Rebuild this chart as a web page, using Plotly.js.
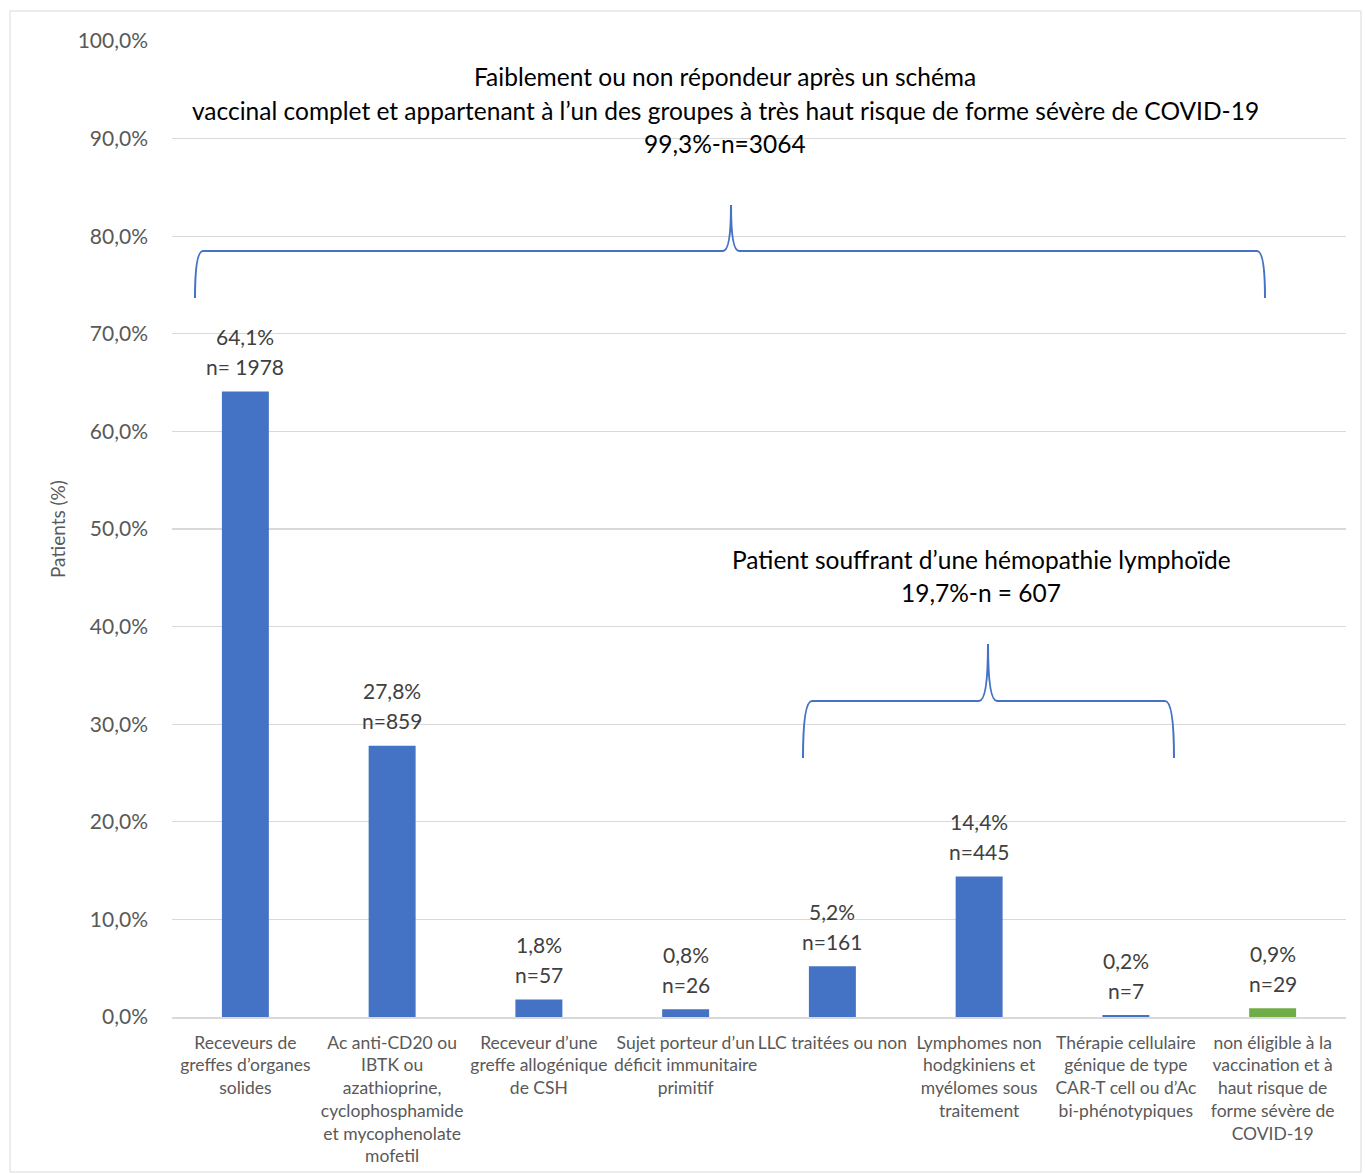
<!DOCTYPE html>
<html>
<head>
<meta charset="utf-8">
<script src="https://cdn.plot.ly/plotly-3.0.1.min.js"></script>
<style>html,body{margin:0;padding:0;background:#fff;}#chart{width:1365px;height:1174px;}</style>
</head>
<body>
<div id="chart"></div>
<script>
// ---- data ----
const categories = [
  "Receveurs de<br>greffes d’organes<br>solides",
  "Ac anti-CD20 ou<br>IBTK ou<br>azathioprine,<br>cyclophosphamide<br>et mycophenolate<br>mofetil",
  "Receveur d’une<br>greffe allogénique<br>de CSH",
  "Sujet porteur d’un<br>déficit immunitaire<br>primitif",
  "LLC traitées ou non",
  "Lymphomes non<br>hodgkiniens et<br>myélomes sous<br>traitement",
  "Thérapie cellulaire<br>génique de type<br>CAR-T cell ou d’Ac<br>bi-phénotypiques",
  "non éligible à la<br>vaccination et à<br>haut risque de<br>forme sévère de<br>COVID-19"
];
const percentValues = [64.1, 27.8, 1.8, 0.8, 5.2, 14.4, 0.2, 0.9];
const countLabels = ["n= 1978", "n=859", "n=57", "n=26", "n=161", "n=445", "n=7", "n=29"];
const percentLabels = ["64,1%", "27,8%", "1,8%", "0,8%", "5,2%", "14,4%", "0,2%", "0,9%"];
const barColors = ["#4472C4","#4472C4","#4472C4","#4472C4","#4472C4","#4472C4","#4472C4","#70AD47"];
const titleLines = [
  "Faiblement ou non répondeur après un schéma",
  "vaccinal complet et appartenant à l’un des groupes à très haut risque de forme sévère de COVID-19",
  "99,3%-n=3064"
];
const subTitleLines = [
  "Patient souffrant d’une hémopathie lymphoïde",
  "19,7%-n = 607"
];
const yAxisTitle = "Patients (%)";

// ---- layout helpers (pixel -> paper) ----
const W = 1365, H = 1174;
const M = {l: 172, r: 19, t: 41, b: 157};
const PW = W - M.l - M.r, PH = H - M.t - M.b;
const px = x => (x - M.l) / PW;
const py = y => (H - M.b - y) / PH;
const FONT = "Lato, 'Noto Sans', sans-serif";

function bracketPath(x0, xm, x1, yLine, yEnd, yTip, r) {
  const pts = [
    ["M", x0, yEnd],
    ["Q", x0, yLine, x0 + r, yLine],
    ["L", xm - r, yLine],
    ["Q", xm, yLine, xm, yTip],
    ["Q", xm, yLine, xm + r, yLine],
    ["L", x1 - r, yLine],
    ["Q", x1, yLine, x1, yEnd]
  ];
  return pts.map(p => {
    const coords = [];
    for (let i = 1; i < p.length; i += 2) coords.push(px(p[i]).toFixed(5) + "," + py(p[i + 1]).toFixed(5));
    return p[0] + " " + coords.join(" ");
  }).join(" ");
}

const trace = {
  type: "bar",
  x: categories,
  y: percentValues,
  marker: {color: barColors},
  hoverinfo: "skip"
};

const annotations = [];
percentValues.forEach((v, i) => {
  annotations.push({x: categories[i], y: v, xref: "x", yref: "y", text: countLabels[i], showarrow: false,
    yanchor: "middle", yshift: 25, font: {family: FONT, size: 21, color: "#404040"}});
  annotations.push({x: categories[i], y: v, xref: "x", yref: "y", text: percentLabels[i], showarrow: false,
    yanchor: "middle", yshift: 55, font: {family: FONT, size: 21, color: "#404040"}});
});
const titleY = [77, 110, 143];
titleLines.forEach((t, i) => annotations.push({x: px(725), y: py(titleY[i]), xref: "paper", yref: "paper",
  text: t, showarrow: false, xanchor: "center", yanchor: "middle", font: {family: FONT, size: 24.5, color: "#000000"}}));
const subY = [559, 592];
subTitleLines.forEach((t, i) => annotations.push({x: px(981), y: py(subY[i]), xref: "paper", yref: "paper",
  text: t, showarrow: false, xanchor: "center", yanchor: "middle", font: {family: FONT, size: 24.5, color: "#000000"}}));
annotations.push({x: px(57), y: py(529), xref: "paper", yref: "paper", text: yAxisTitle, textangle: -90,
  showarrow: false, xanchor: "center", yanchor: "middle", font: {family: FONT, size: 19, color: "#595959"}});

const shapes = [
  // outer chart border
  {type: "rect", xref: "paper", yref: "paper", x0: px(10), x1: px(1361), y0: py(1172), y1: py(11),
    line: {color: "#d9d9d9", width: 1}, fillcolor: "rgba(0,0,0,0)", layer: "below"},
  // text box backgrounds hiding gridlines
  {type: "rect", xref: "paper", yref: "paper", x0: px(218), x1: px(1237), y0: py(150), y1: py(126),
    line: {width: 0}, fillcolor: "#ffffff", layer: "below"},
  {type: "rect", xref: "paper", yref: "paper", x0: px(738), x1: px(1225), y0: py(636), y1: py(616),
    line: {width: 0}, fillcolor: "#ffffff", layer: "below"},
  // brackets
  {type: "path", xref: "paper", yref: "paper", path: bracketPath(195, 731, 1265, 251, 298, 205, 8),
    line: {color: "#4472C4", width: 2}, layer: "above"},
  {type: "path", xref: "paper", yref: "paper", path: bracketPath(803, 988, 1174, 701, 758, 644, 9),
    line: {color: "#4472C4", width: 2}, layer: "above"}
];

const layout = {
  width: W, height: H,
  margin: M,
  paper_bgcolor: "#ffffff", plot_bgcolor: "#ffffff",
  separators: ", ",
  showlegend: false,
  bargap: 0.68,
  font: {family: FONT, color: "#595959"},
  xaxis: {
    type: "category",
    tickangle: 0,
    tickfont: {family: FONT, size: 17.5, color: "#595959"},
    showline: true, linecolor: "#d9d9d9", linewidth: 1.5,
    ticks: "", showgrid: false, fixedrange: true,
    ticklabelstandoff: 9,
    automargin: false
  },
  yaxis: {
    range: [0, 100], dtick: 10, tick0: 0,
    tickformat: ".1f", ticksuffix: "%",
    tickfont: {family: FONT, size: 21, color: "#595959"},
    gridcolor: "#d9d9d9", gridwidth: 1.3,
    zeroline: false, showline: false, ticks: "",
    ticklabelstandoff: 23,
    automargin: false, fixedrange: true
  },
  annotations: annotations,
  shapes: shapes
};

Plotly.newPlot("chart", [trace], layout, {displayModeBar: false, staticPlot: true});
</script>
</body>
</html>
